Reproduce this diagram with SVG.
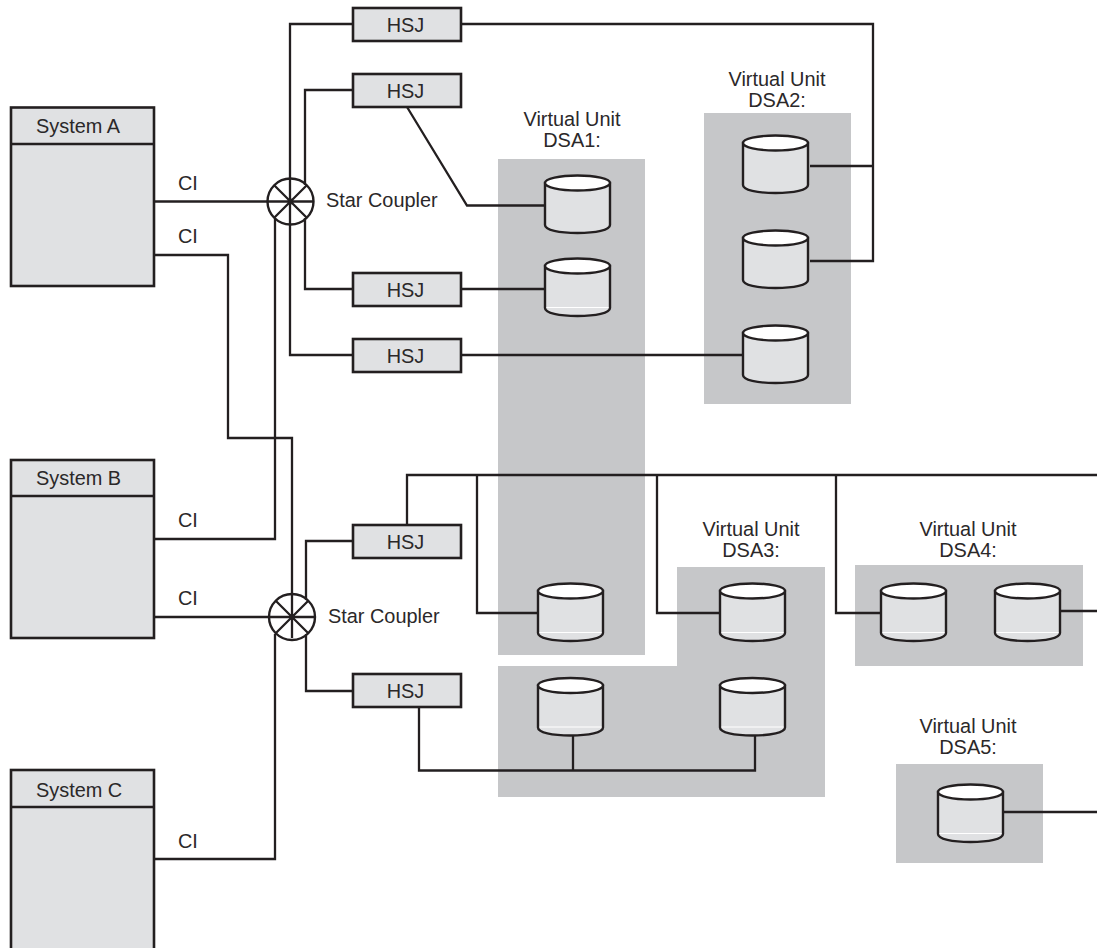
<svg xmlns="http://www.w3.org/2000/svg" width="1097" height="948" viewBox="0 0 1097 948">
<style>
.ln{fill:none;stroke:#231f20;stroke-width:2.3}
.box{fill:#e0e1e3;stroke:#231f20;stroke-width:2.6}
.zone{fill:#c6c7c9}
text{font-family:"Liberation Sans",Arial,sans-serif;font-size:19.9px;fill:#2b2829}
.m{text-anchor:middle}
</style>
<defs>
<g id="cyl">
<path d="M0,0V42C0,47 14,50 32.500,50C51,50 65,47 65,42V0Z" fill="#e0e1e3" stroke="#231f20" stroke-width="2.400"/>
<ellipse cx="32.500" cy="0" rx="32.500" ry="7.500" fill="#fff" stroke="#231f20" stroke-width="2.400"/>
</g>
<g id="cylw">
<use href="#cyl"/>
<path d="M1.500,41.500H63.500" stroke="#fff" stroke-width="1.200" fill="none"/>
</g>
<g id="hsj">
<rect x="0" y="0" width="108" height="33" class="box"/>
<text x="52.500" y="23.500" class="m">HSJ</text>
</g>
<g id="spokes">
<circle cx="0" cy="0" r="23" fill="none" stroke="#231f20" stroke-width="2.400"/>
<path d="M-16.300,-16.300L16.300,16.300M16.300,-16.300L-16.300,16.300" class="ln"/>
<circle cx="0" cy="0" r="3" fill="#231f20"/>
</g>
</defs>
<rect width="1097" height="948" fill="#fff"/>
<g id="zones">
<rect class="zone" x="498" y="159" width="147" height="496"/>
<rect class="zone" x="704" y="113" width="147" height="291"/>
<path class="zone" d="M677,567H825V797H498V666H677Z"/>
<rect class="zone" x="855" y="565" width="228" height="101"/>
<rect class="zone" x="896" y="764" width="147" height="99"/>
</g>
<g id="connectors" class="ln">
<path d="M154,201.500H313"/>
<path d="M154,255H228V438H292V638"/>
<path d="M154,539H275V219"/>
<path d="M154,617H315"/>
<path d="M154,859H275V634"/>
<path d="M353,24H290V355H353"/>
<path d="M353,90H305V185"/>
<path d="M305,218V289H353"/>
<path d="M407,107L467,205.500H545"/>
<path d="M461,24H873V261H810M873,166H810"/>
<path d="M461,289H545"/>
<path d="M461,355H743"/>
<path d="M407,525V475H1097"/>
<path d="M477,475V613H538"/>
<path d="M657,475V613H720"/>
<path d="M836,475V613H881"/>
<path d="M1060,611H1097"/>
<path d="M1003,812H1097"/>
<path d="M353,541H306V600"/>
<path d="M306,634V691H353"/>
<path d="M419,707V770.500H755V735M573,770.500V735"/>
</g>
<g id="star1"><use href="#spokes" x="290.500" y="201.500"/></g>
<g id="star2"><use href="#spokes" x="292" y="617"/></g>
<g id="systemA"><rect class="box" x="11" y="107.500" width="143" height="178.500"/><path class="ln" d="M11,144H154"/><text x="36" y="133">System A</text></g>
<g id="systemB"><rect class="box" x="11" y="460" width="143" height="178"/><path class="ln" d="M11,496H154"/><text x="36" y="485">System B</text></g>
<g id="systemC"><rect class="box" x="11" y="770" width="143" height="190"/><path class="ln" d="M11,807H154"/><text x="36" y="797">System C</text></g>
<g id="hsj1"><use href="#hsj" x="353" y="8"/></g>
<g id="hsj2"><use href="#hsj" x="353" y="74"/></g>
<g id="hsj3"><use href="#hsj" x="353" y="273"/></g>
<g id="hsj4"><use href="#hsj" x="353" y="339"/></g>
<g id="hsj5"><use href="#hsj" x="353" y="525"/></g>
<g id="hsj6"><use href="#hsj" x="353" y="674"/></g>
<g id="disks">
<use href="#cyl" x="545" y="183"/>
<use href="#cylw" x="545" y="266"/>
<use href="#cylw" x="538" y="591"/>
<use href="#cyl" x="743" y="143"/>
<use href="#cyl" x="743" y="238"/>
<use href="#cyl" x="743" y="333"/>
<use href="#cylw" x="720" y="591"/>
<use href="#cylw" x="538" y="685.500"/>
<use href="#cylw" x="720" y="685.500"/>
<use href="#cylw" x="881" y="591"/>
<use href="#cylw" x="995" y="591"/>
<use href="#cylw" x="938" y="792"/>
</g>
<g id="labels">
<text x="178" y="190">CI</text>
<text x="178" y="243">CI</text>
<text x="178" y="527">CI</text>
<text x="178" y="605">CI</text>
<text x="178" y="848">CI</text>
<text x="326" y="207">Star Coupler</text>
<text x="328" y="623">Star Coupler</text>
<text class="m" x="777" y="86">Virtual Unit</text><text class="m" x="777" y="107">DSA2:</text>
<text class="m" x="572" y="126">Virtual Unit</text><text class="m" x="572" y="147">DSA1:</text>
<text class="m" x="751" y="536">Virtual Unit</text><text class="m" x="751" y="557">DSA3:</text>
<text class="m" x="968" y="536">Virtual Unit</text><text class="m" x="968" y="557">DSA4:</text>
<text class="m" x="968" y="733">Virtual Unit</text><text class="m" x="968" y="754">DSA5:</text>
</g>
</svg>
